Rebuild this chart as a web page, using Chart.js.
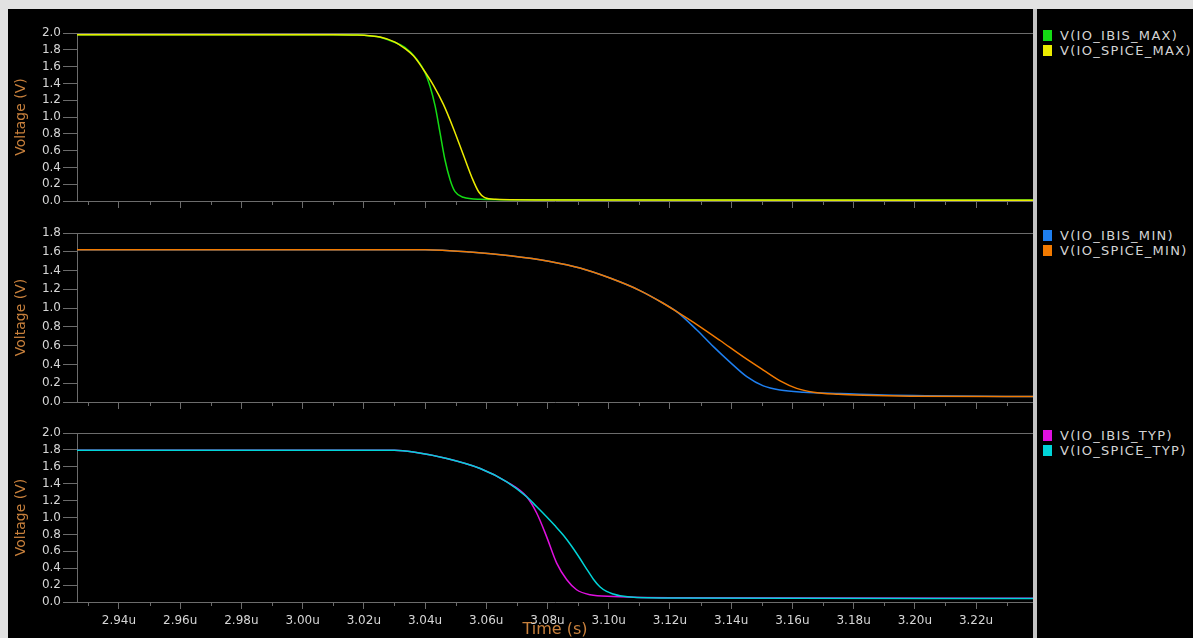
<!DOCTYPE html>
<html>
<head>
<meta charset="utf-8">
<script src="https://cdn.jsdelivr.net/npm/chart.js@4"></script>
<style>
  html, body { margin: 0; padding: 0; background: #e2e2e2; overflow: hidden; }
  #frame { position: absolute; left: 8px; top: 9px; width: 1185px; height: 629px; background: #000; }
  canvas { position: absolute; left: 8px; }
  #sep { position: absolute; left: 1033px; top: 9px; width: 4px; height: 629px; background: #c4c4c4; }
  .legend { position: absolute; left: 1043px; font: 13px "DejaVu Sans"; color: #d4d4d4; letter-spacing: 1.3px; }
  .legend div { height: 15px; line-height: 15px; white-space: nowrap; }
  .legend span { display: inline-block; width: 9px; height: 11px; margin-right: 8px; vertical-align: -1px; }
</style>
</head>
<body>
<div id="frame"></div>
<canvas id="c1" width="1025" height="198" style="top:23px"></canvas>
<canvas id="c2" width="1025" height="199" style="top:223px"></canvas>
<canvas id="c3" width="1025" height="215" style="top:423px"></canvas>
<div id="sep"></div>
<div class="legend" id="l1" style="top:28px"></div>
<div class="legend" id="l2" style="top:228px"></div>
<div class="legend" id="l3" style="top:428px"></div>
<script>
// time in microseconds, voltage in volts
const T_MIN = 2.9263, T_MAX = 3.2386;

const tIbisMax = [2.9263, 3.010, 3.018, 3.022, 3.0253, 3.030, 3.0334, 3.0373, 3.040, 3.0416, 3.0433, 3.0449, 3.0465, 3.0482, 3.0498, 3.0525, 3.058, 3.070, 3.2386];
const vIbisMax = [1.98, 1.98, 1.975, 1.965, 1.949, 1.89, 1.829, 1.689, 1.529, 1.369, 1.129, 0.811, 0.491, 0.251, 0.111, 0.044, 0.02, 0.015, 0.012];
const tSpiceMax = [2.9263, 3.010, 3.018, 3.022, 3.0253, 3.030, 3.0336, 3.0362, 3.0394, 3.0427, 3.046, 3.0492, 3.0525, 3.0553, 3.0575, 3.0595, 3.063, 3.0797, 3.2386];
const vSpiceMax = [1.98, 1.98, 1.976, 1.967, 1.952, 1.895, 1.81, 1.728, 1.569, 1.38, 1.15, 0.87, 0.55, 0.28, 0.11, 0.04, 0.02, 0.012, 0.01];

const tIbisMin = [2.9263, 3.040, 3.0547, 3.0678, 3.0808, 3.0906, 3.1004, 3.1102, 3.1178, 3.1222, 3.1288, 3.1342, 3.1396, 3.1451, 3.1505, 3.156, 3.1636, 3.1756, 3.19, 3.2386];
const vIbisMin = [1.622, 1.622, 1.598, 1.558, 1.497, 1.427, 1.32, 1.187, 1.052, 0.963, 0.767, 0.59, 0.425, 0.27, 0.172, 0.128, 0.105, 0.09, 0.075, 0.058];
const tSpiceMin = [2.9263, 3.040, 3.0547, 3.0678, 3.0808, 3.0906, 3.1004, 3.1102, 3.1178, 3.1222, 3.1288, 3.1364, 3.144, 3.1505, 3.156, 3.1614, 3.1669, 3.175, 3.1832, 3.1985, 3.2386];
const vSpiceMin = [1.622, 1.622, 1.598, 1.558, 1.497, 1.427, 1.32, 1.187, 1.052, 0.963, 0.825, 0.655, 0.48, 0.34, 0.225, 0.145, 0.105, 0.083, 0.072, 0.062, 0.058];

const tIbisTyp = [2.9263, 3.030, 3.0362, 3.0471, 3.058, 3.0667, 3.0732, 3.0765, 3.0797, 3.083, 3.0863, 3.0895, 3.0939, 3.1015, 3.12, 3.2386];
const vIbisTyp = [1.796, 1.796, 1.776, 1.698, 1.58, 1.422, 1.245, 1.05, 0.774, 0.46, 0.263, 0.145, 0.086, 0.066, 0.05, 0.045];
const tSpiceTyp = [2.9263, 3.030, 3.0362, 3.0471, 3.058, 3.0667, 3.0732, 3.0765, 3.0797, 3.0824, 3.0852, 3.0879, 3.0906, 3.0928, 3.095, 3.0971, 3.0993, 3.1015, 3.1037, 3.1168, 3.2386];
const vSpiceTyp = [1.796, 1.796, 1.776, 1.698, 1.58, 1.422, 1.245, 1.127, 1.009, 0.905, 0.79, 0.66, 0.515, 0.39, 0.27, 0.18, 0.125, 0.095, 0.074, 0.047, 0.042];

const yMax = [2.0, 1.8, 2.0];
const names = [['V(IO_IBIS_MAX)', 'V(IO_SPICE_MAX)'], ['V(IO_IBIS_MIN)', 'V(IO_SPICE_MIN)'], ['V(IO_IBIS_TYP)', 'V(IO_SPICE_TYP)']];
const colors = [['#14dc14', '#ecec00'], ['#1e7ff0', '#f27a00'], ['#e010e0', '#00d4d8']];

const AXIS = '#6c6c6c';
const TXT = '#d6d6d6';
const TITLE = '#c8803c';
const FONT = 'DejaVu Sans';

function pts(t, v) {
    return t.map((x, i) => ({ x: x, y: v[i] }));
}

function isMajor(v) {
    return Math.round(v * 100) % 2 === 0;
}

// top border of each plot and the short minor ticks on the time axis
const framePlugin = {
    id: 'framePlugin',
    afterDraw(chart) {
        const ctx = chart.ctx;
        const a = chart.chartArea;
        const x = chart.scales.x;
        ctx.save();
        ctx.strokeStyle = AXIS;
        ctx.lineWidth = 1;
        ctx.beginPath();
        ctx.moveTo(a.left, a.top + 0.5);
        ctx.lineTo(a.right, a.top + 0.5);
        x.ticks.forEach(t => {
            if (!isMajor(t.value)) {
                const px = Math.round(x.getPixelForValue(t.value)) + 0.5;
                ctx.moveTo(px, a.bottom);
                ctx.lineTo(px, a.bottom + 4);
            }
        });
        ctx.stroke();
        ctx.restore();
    }
};

function makePanel(id, i, series, bottom) {
    const ctx = document.getElementById(id).getContext('2d');
    const datasets = series.map((s, k) => ({
        label: names[i][k],
        data: s,
        borderColor: colors[i][k],
        backgroundColor: colors[i][k],
        borderWidth: 1.5,
        pointRadius: 0,
        cubicInterpolationMode: 'monotone',
        order: k === 0 ? 1 : 0
    }));
    return new Chart(ctx, {
        type: 'line',
        data: { datasets: datasets },
        options: {
            responsive: false,
            animation: false,
            layout: { padding: { top: 10, right: 0, bottom: 0, left: 0 } },
            plugins: { legend: { display: false }, tooltip: { enabled: false } },
            scales: {
                x: {
                    type: 'linear',
                    min: T_MIN,
                    max: T_MAX,
                    afterFit: s => { s.height = bottom ? 36 : 20; },
                    ticks: {
                        display: bottom,
                        stepSize: 0.01,
                        includeBounds: false,
                        autoSkip: false,
                        maxRotation: 0,
                        padding: 5,
                        color: TXT,
                        font: { family: FONT, size: 12 },
                        callback: v => isMajor(v) ? v.toFixed(2) + 'u' : ''
                    },
                    grid: {
                        drawOnChartArea: false,
                        tickLength: 7,
                        color: AXIS,
                        tickColor: c => (c.tick && isMajor(c.tick.value)) ? AXIS : 'transparent'
                    },
                    border: { color: AXIS },
                    title: {
                        display: bottom,
                        text: 'Time (s)',
                        color: TITLE,
                        font: { family: FONT, size: 16, lineHeight: 1 },
                        padding: 0
                    }
                },
                y: {
                    min: 0,
                    max: yMax[i],
                    afterFit: s => { s.width = 69; },
                    ticks: {
                        stepSize: 0.2,
                        autoSkip: false,
                        padding: 2,
                        color: TXT,
                        font: { family: FONT, size: 12 },
                        callback: v => v.toFixed(1)
                    },
                    grid: { drawOnChartArea: false, tickLength: 14, color: AXIS, tickColor: AXIS },
                    border: { color: AXIS },
                    title: {
                        display: true,
                        text: 'Voltage (V)',
                        color: TITLE,
                        font: { family: FONT, size: 14, lineHeight: 1 },
                        padding: { top: 6, bottom: 0 }
                    }
                }
            }
        },
        plugins: [framePlugin]
    });
}

function makeLegend(id, i) {
    const box = document.getElementById(id);
    names[i].forEach((n, k) => {
        const row = document.createElement('div');
        const sw = document.createElement('span');
        sw.style.background = colors[i][k];
        row.appendChild(sw);
        row.appendChild(document.createTextNode(n));
        box.appendChild(row);
    });
}

document.addEventListener('DOMContentLoaded', function () {
    makePanel('c1', 0, [pts(tIbisMax, vIbisMax), pts(tSpiceMax, vSpiceMax)], false);
    makePanel('c2', 1, [pts(tIbisMin, vIbisMin), pts(tSpiceMin, vSpiceMin)], false);
    makePanel('c3', 2, [pts(tIbisTyp, vIbisTyp), pts(tSpiceTyp, vSpiceTyp)], true);
    makeLegend('l1', 0);
    makeLegend('l2', 1);
    makeLegend('l3', 2);
});
</script>
</body>
</html>
